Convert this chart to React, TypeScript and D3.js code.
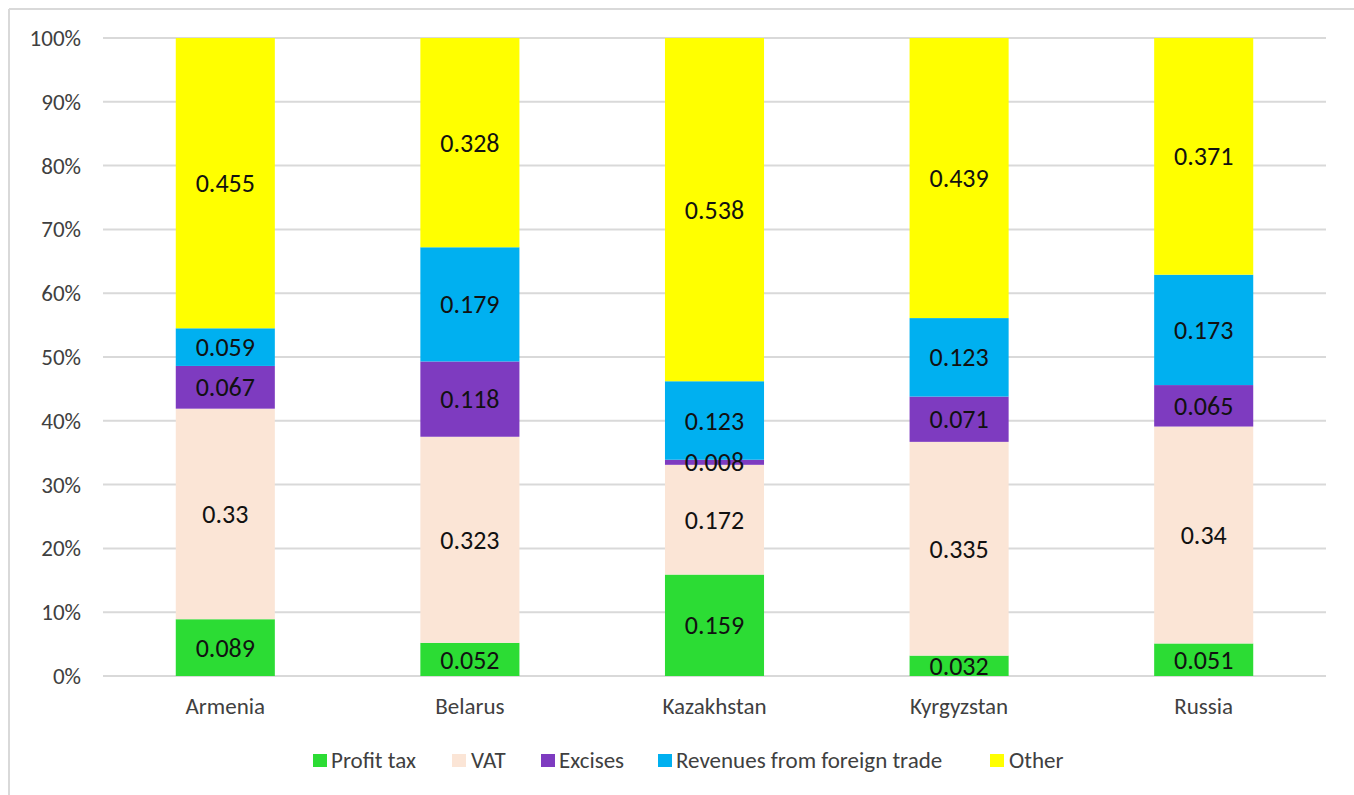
import React from "react";
import * as d3 from "d3";

const countries = ["Armenia", "Belarus", "Kazakhstan", "Kyrgyzstan", "Russia"];
const seriesNames = ["Profit tax", "VAT", "Excises", "Revenues from foreign trade", "Other"];
const profitTax = [0.089, 0.052, 0.159, 0.032, 0.051];
const vat = [0.33, 0.323, 0.172, 0.335, 0.34];
const excises = [0.067, 0.118, 0.008, 0.071, 0.065];
const foreignTrade = [0.059, 0.179, 0.123, 0.123, 0.173];
const other = [0.455, 0.328, 0.538, 0.439, 0.371];
const colors = ["#2CDC34", "#FBE5D6", "#7E3BC0", "#00B0F0", "#FFFF00"];
const yTicks = [0, 0.1, 0.2, 0.3, 0.4, 0.5, 0.6, 0.7, 0.8, 0.9, 1.0];

const W = 1354;
const H = 795;
const FONT = "Carlito, Lato, 'Open Sans', sans-serif";

export default function App() {
  const x = d3.scaleBand().domain(countries).range([103, 1326]).paddingInner(0.595).paddingOuter(0.2975);
  const y = d3.scaleLinear().domain([0, 1]).range([676, 38]);

  const rows = countries.map((c, i) => ({
    country: c,
    s0: profitTax[i],
    s1: vat[i],
    s2: excises[i],
    s3: foreignTrade[i],
    s4: other[i],
  }));
  const stack = d3.stack<any>().keys(["s0", "s1", "s2", "s3", "s4"]);
  const layers = stack(rows);

  const legendItems = [
    { sw: 313, tx: 331 },
    { sw: 452, tx: 471 },
    { sw: 541, tx: 559 },
    { sw: 658, tx: 676 },
    { sw: 990, tx: 1009 },
  ];

  return (
    <svg width={W} height={H} style={{ position: "absolute", left: 0, top: 0 }} fontFamily={FONT}>
      <rect x={0} y={0} width={W} height={H} fill="#fff" />
      <line x1={9} x2={W} y1={9} y2={9} stroke="#d9d9d9" strokeWidth={2} />
      <line x1={9} x2={9} y1={9} y2={H} stroke="#d9d9d9" strokeWidth={2} />
      {yTicks.map((t) => (
        <g key={t}>
          <line x1={103} x2={1326} y1={y(t)} y2={y(t)} stroke="#d9d9d9" strokeWidth={2} />
          <text x={81} y={y(t)} dy="0.35em" textAnchor="end" fontSize={23} fill="#404040">
            {d3.format(".0%")(t)}
          </text>
        </g>
      ))}
      {layers.map((layer, li) => (
        <g key={li}>
          {layer.map((d, di) => (
            <rect
              key={di}
              x={x(countries[di])!}
              width={x.bandwidth()}
              y={y(d[1])}
              height={y(d[0]) - y(d[1])}
              fill={colors[li]}
            />
          ))}
        </g>
      ))}
      {layers.map((layer, li) => (
        <g key={"l" + li}>
          {layer.map((d, di) => (
            <text
              key={di}
              x={x(countries[di])! + x.bandwidth() / 2}
              y={(y(d[0]) + y(d[1])) / 2}
              dy="0.35em"
              textAnchor="middle"
              fontSize={26}
              fill="#111"
            >
              {String(+(d[1] - d[0]).toFixed(3))}
            </text>
          ))}
        </g>
      ))}
      {countries.map((c) => (
        <text key={c} x={x(c)! + x.bandwidth() / 2} y={706} dy="0.35em" textAnchor="middle" fontSize={23} fill="#404040">
          {c}
        </text>
      ))}
      {seriesNames.map((s, i) => (
        <g key={s}>
          <rect x={legendItems[i].sw} y={754} width={14} height={13} fill={colors[i]} />
          <text x={legendItems[i].tx} y={760} dy="0.35em" fontSize={23} fill="#404040">
            {s}
          </text>
        </g>
      ))}
    </svg>
  );
}
